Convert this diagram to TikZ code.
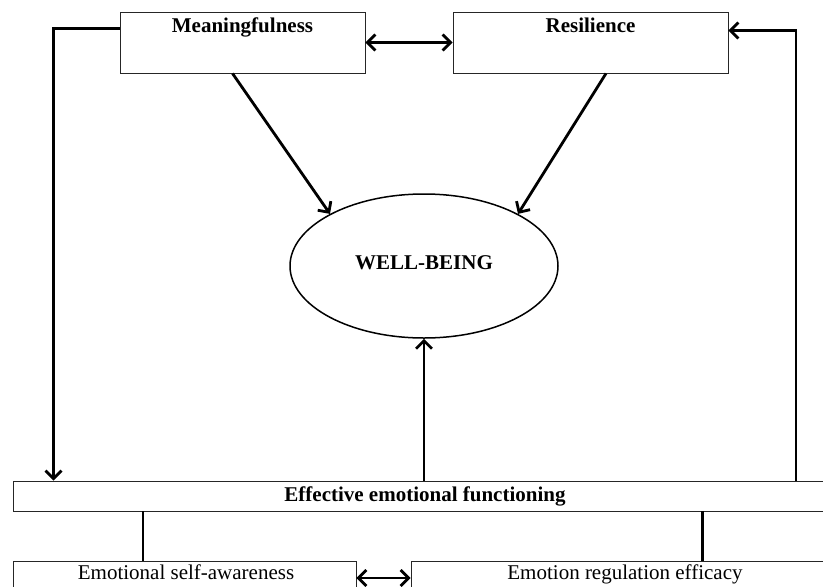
\documentclass[tikz,border=0pt]{standalone}
\usepackage{fontspec}
\setmainfont{Liberation Serif}
\usetikzlibrary{shapes.geometric,arrows.meta}
\tikzset{
	barb/.tip={Straight Barb[length=8pt,width=16pt,line width=2.8pt]},
	box/.style={draw=black!85,line width=0.9pt,inner sep=0pt},
	lbl/.style={font=\fontsize{21}{25}\selectfont},
	blbl/.style={font=\fontsize{21}{25}\selectfont\bfseries},
	link/.style={line width=2.8pt,-barb},
	twoway/.style={line width=2.8pt,barb-barb}
}
\begin{document}
\begin{tikzpicture}[x=1pt,y=-1pt]
			\useasboundingbox (0,0) rectangle (823,587);
			\clip (0,0) rectangle (823,587);
			% top row
			\node[box,minimum width=245pt,minimum height=61pt] (mean) at (242.5,42.5) {};
			\node[blbl,anchor=base] at ([yshift=-21pt]mean.north) {Meaningfulness};
			\node[box,minimum width=275pt,minimum height=61pt] (res) at (590.5,42.5) {};
			\node[blbl,anchor=base] at ([yshift=-21pt]res.north) {Resilience};
			% outcome
			\node[box,draw=black,line width=1.5pt,ellipse,minimum width=268pt,minimum height=144pt] (wb) at (424,266) {};
			\node[blbl] at (424,263) {WELL-BEING};
			% bottom rows
			\node[box,minimum width=824pt,minimum height=30pt,blbl] (eff) at (425,496) {Effective emotional functioning};
			\node[box,minimum width=343pt,minimum height=34pt] (self) at (184.5,578) {};
			\node[lbl,anchor=base] at (186,579) {Emotional self-awareness};
			\node[box,minimum width=429pt,minimum height=34pt] (reg) at (625.5,578) {};
			\node[lbl,anchor=base] at (625,579) {Emotion regulation efficacy};
			\coordinate (rside) at (796,0);
			% connectors
			\draw[twoway] (mean.east) -- (res.west);
			\draw[link] ([xshift=-10pt]mean.south) -- (wb.151);
			\draw[link] ([xshift=15.5pt]res.south) -- (wb.29);
			\draw[link] (eff.north -| wb.south) -- (wb.south);
			\draw[link] ([yshift=14pt]mean.west) -| ([xshift=41pt]eff.north west);
			\draw[link] (eff.north -| rside) |- ([yshift=12pt]res.east);
			\draw[line width=2.2pt] ([xshift=-41.5pt]self.north) -- ([xshift=-41.5pt]self.north |- eff.south);
			\draw[line width=2.2pt] ([xshift=77pt]reg.north) -- ([xshift=77pt]reg.north |- eff.south);
			\draw[twoway] (self.east) -- (reg.west);
		\end{tikzpicture}
\end{document}
